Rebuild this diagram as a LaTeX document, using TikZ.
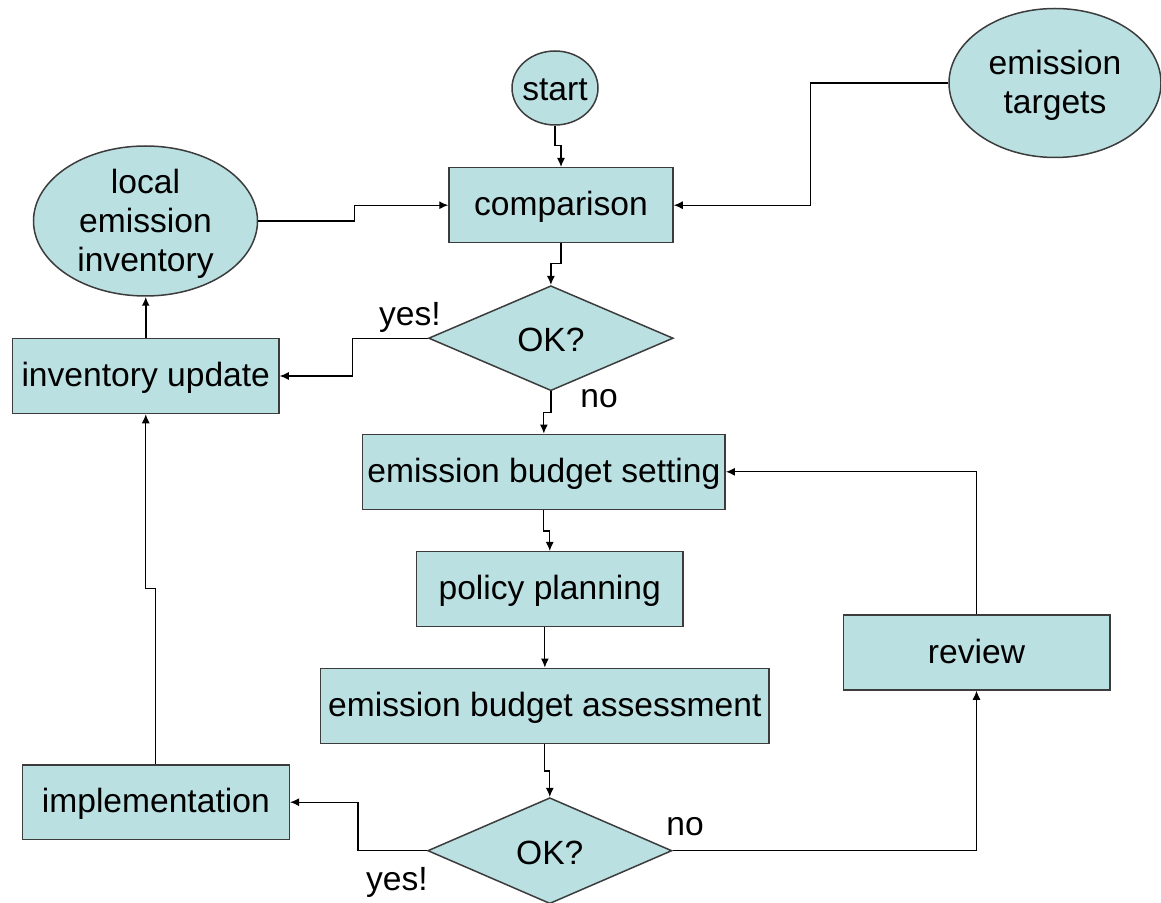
\documentclass[tikz,border=0pt]{standalone}
\usepackage{fontspec}
\setmainfont{Liberation Sans}
\usetikzlibrary{shapes.geometric,arrows.meta}
\definecolor{boxfill}{RGB}{186,224,226}
\definecolor{boxline}{RGB}{60,60,60}
\begin{document}
\begin{tikzpicture}[x=0.5pt,y=-0.5pt,
  every node/.style={font=\fontsize{16.8pt}{19.5pt}\selectfont},
  procbox/.style={rectangle,draw=boxline,fill=boxfill,line width=0.75pt,inner sep=0pt,minimum height=37.5pt,text height=12pt,text depth=1.5pt},
  ovalbox/.style={ellipse,draw=boxline,fill=boxfill,line width=0.75pt,inner sep=0pt},
  decbox/.style={diamond,draw=boxline,fill=boxfill,line width=0.75pt,inner sep=0pt},
  arr/.style={draw=black,line width=0.6pt,-{Latex[length=4.5pt,width=4pt]}},
  lbl/.style={inner sep=0pt}]
\useasboundingbox (0,0) rectangle (1161,903);
% nodes
\node[ovalbox,minimum width=43pt,minimum height=37pt,label={[yshift=-1pt]center:start}] (start) at (555,88) {};
\node[ovalbox,minimum width=106pt,minimum height=74.5pt,label={[align=center,yshift=-1pt]center:{emission\\targets}}] (targets) at (1055,83) {};
\node[ovalbox,minimum width=112pt,minimum height=75pt,label={[align=center,yshift=-1.5pt]center:{local\\emission\\inventory}}] (local) at (145.5,221) {};
\node[procbox,minimum width=112pt] (comparison) at (561,205.2) {comparison};
\node[decbox,minimum width=122.3pt,minimum height=52.5pt,label={[yshift=-1pt]center:OK?}] (ok1) at (550.9,338.2) {};
\node[procbox,minimum width=133.25pt] (invup) at (145.75,376) {inventory update};
\node[procbox,minimum width=181.35pt] (ebs) at (543.85,471.8) {emission budget setting};
\node[procbox,minimum width=133.25pt] (pp) at (549.75,589.2) {policy planning};
\node[procbox,minimum width=224.35pt] (eba) at (544.85,705.8) {emission budget assessment};
\node[procbox,minimum width=133.5pt,minimum height=37.2pt] (impl) at (155.8,802.2) {implementation};
\node[procbox,minimum width=133.25pt] (review) at (976.5,652.5) {review};
\node[decbox,minimum width=122.1pt,minimum height=53pt,label={[yshift=-1pt]center:OK?}] (ok2) at (549.8,850.7) {};
% labels
\node[lbl] (yes1) at (410,317) {yes!};
\node[lbl] (no1) at (599,399) {no};
\node[lbl] (yes2) at (397,882) {yes!};
\node[lbl] (no2) at (685,827) {no};
% connectors
\draw[arr] (start.south) -- ++(0,20) -| (comparison.north);
\draw[arr] (comparison.south) -- ++(0,20) -| (ok1.north);
\draw[arr] (ok1.west) -- ++(-75,0) |- (invup.east);
\draw[arr,line width=1.1pt] (invup.north) -- (invup.north |- local.south);
\draw[arr] (local.east) -- ++(96,0) |- (comparison.west);
\draw[arr] (targets.west) -- ++(-138,0) |- (comparison.east);
\draw[arr] (ok1.south) -- ++(0,21) -| (ebs.north);
\draw[arr] (ebs.south) -- ++(0,21) -| (pp.north);
\draw[arr] (pp.south -| eba.north) -- (eba.north);
\draw[arr] (eba.south) -- ++(0,27) -| (ok2.north);
\draw[arr] (ok2.west) -- ++(-69,0) |- (impl.east);
\draw[arr] (impl.north) -- ++(0,-176) -| (invup.south);
\draw[arr] (ok2.east) -| (review.south);
\draw[arr] (review.north) |- (ebs.east);
\end{tikzpicture}
\end{document}
